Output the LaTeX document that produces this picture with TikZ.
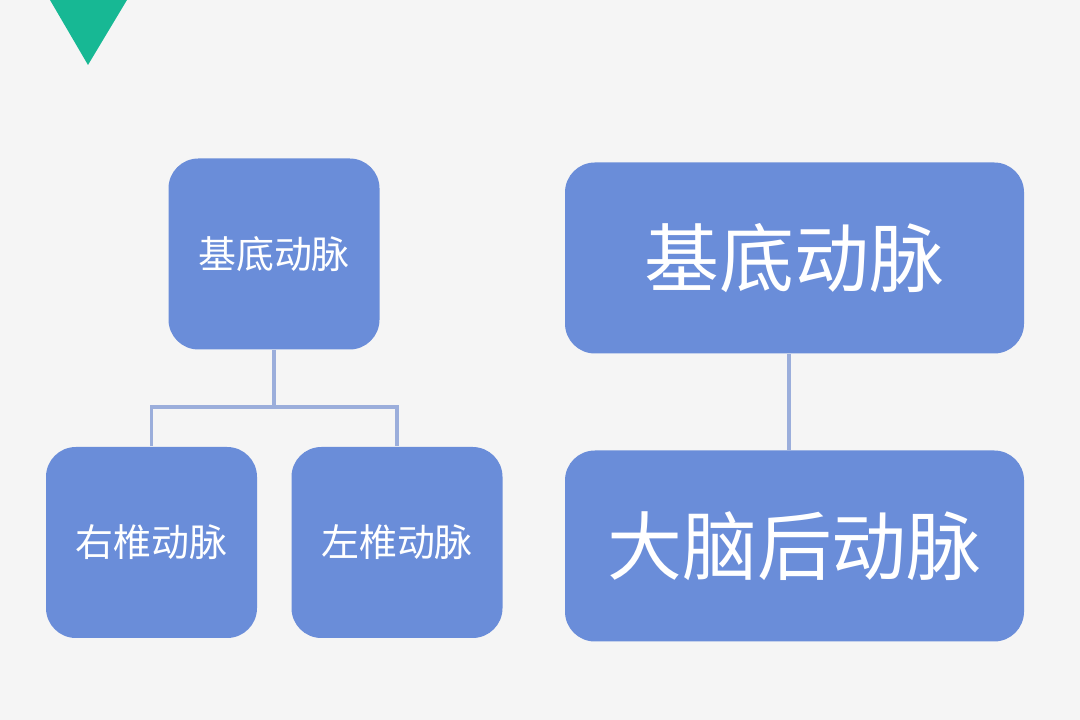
\documentclass[tikz,border=0pt]{standalone}
\usepackage{fontspec}
\usepackage{xcolor}
\usetikzlibrary{positioning}
\newfontfamily\cjk{Noto Sans CJK SC}
\definecolor{fondgris}{HTML}{F5F5F5}
\definecolor{boitebleu}{HTML}{6A8DD9}
\definecolor{lienbleu}{HTML}{9BAEDB}
\definecolor{vertmenthe}{HTML}{17B894}

\begin{document}
\begin{tikzpicture}[
    font=\cjk,
    petite/.style={rectangle, rounded corners=8.5pt, fill=boitebleu, text=white,
      minimum width=2.11cm, minimum height=1.91cm, font=\cjk\fontsize{10.8pt}{13pt}\selectfont,
      align=center, inner sep=0pt},
    grande/.style={rectangle, rounded corners=8.5pt, fill=boitebleu, text=white,
      minimum width=4.59cm, minimum height=1.91cm, font=\cjk\fontsize{21.3pt}{25pt}\selectfont,
      align=center, inner sep=0pt},
    lien/.style={-, draw=lienbleu, line width=1.05pt}
  ]
    \fill[fondgris] (0,0) rectangle (10.8,-7.2);
    \useasboundingbox (0,0) rectangle (10.8,-7.2);

    % marque verte
    \fill[vertmenthe] (0.50,0) -- (1.27,0) -- (0.88,-0.65) -- cycle;

    % arbre de gauche
    \node[petite] (jdg) at (2.74,-2.54) {基底动脉};
    \node[petite] (yzd) at (1.515,-5.425) {右椎动脉};
    \node[petite] (zzd) at (3.97,-5.425) {左椎动脉};
    \coordinate (fourche) at (2.74,-4.07);

    % colonne de droite
    \node[grande] (jdd) at (7.945,-2.58) {基底动脉};
    \node[grande] (dnh) at (7.945,-5.46) {大脑后动脉};

    \draw[lien] (jdg.south) -- (fourche);
    \draw[lien] (fourche) -| (yzd.north);
    \draw[lien] (fourche) -| (zzd.north);
    \draw[lien] ([xshift=-1.5pt]jdd.south) -- ([xshift=-1.5pt]dnh.north);
  \end{tikzpicture}
\end{document}
